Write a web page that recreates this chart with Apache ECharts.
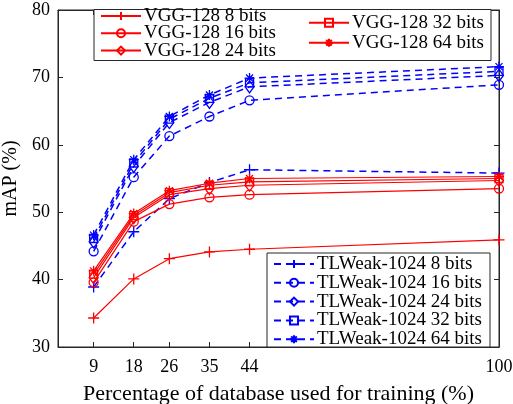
<!DOCTYPE html>
<html>
<head>
<meta charset="utf-8">
<script src="https://cdn.jsdelivr.net/npm/echarts@6/dist/echarts.min.js"></script>
<style>html,body{margin:0;padding:0;background:#fff}#c{width:513px;height:404px}</style>
</head>
<body>
<div id="c"></div>
<script>
// ---- data ----
const xValues = [9, 18, 26, 35, 44, 100];
const xTicks = [9, 18, 26, 35, 44, 100];
const yTicks = [30, 40, 50, 60, 70, 80];
const seriesNames = [
  'VGG-128 8 bits', 'VGG-128 16 bits', 'VGG-128 24 bits', 'VGG-128 32 bits', 'VGG-128 64 bits',
  'TLWeak-1024 8 bits', 'TLWeak-1024 16 bits', 'TLWeak-1024 24 bits', 'TLWeak-1024 32 bits', 'TLWeak-1024 64 bits'
];
const vgg8  = [34.3, 40.1, 43.1, 44.1, 44.5, 45.9];
const vgg16 = [39.6, 48.6, 51.2, 52.2, 52.6, 53.5];
const vgg24 = [40.3, 49.2, 52.6, 53.5, 54.0, 54.7];
const vgg32 = [40.8, 49.5, 52.9, 54.0, 54.5, 55.0];
const vgg64 = [41.3, 49.8, 53.2, 54.3, 55.0, 55.3];
const tl8   = [38.9, 47.1, 52.0, 54.4, 56.3, 55.8];
const tl16  = [44.2, 55.2, 61.3, 64.2, 66.6, 68.9];
const tl24  = [45.6, 56.8, 63.3, 66.3, 68.6, 70.3];
const tl32  = [46.1, 57.3, 63.8, 66.9, 69.2, 70.9];
const tl64  = [46.6, 57.8, 64.2, 67.4, 69.9, 71.6];

const FONT = "'Liberation Serif', 'Times New Roman', serif";
const RED = '#ff0000', BLUE = '#0000ff', AX = '#262626';
const PLUS = 'path://M0,5L10,5M5,0L5,10';
const STAR = 'path://M0,5L10,5M5,0L5,10M1.5,1.5L8.5,8.5M1.5,8.5L8.5,1.5';
const markers = [
  {s: PLUS, z: 11}, {s: 'circle', z: 9}, {s: 'diamond', z: [9, 12]}, {s: 'rect', z: 8}, {s: STAR, z: 10}
];
const allData = [vgg8, vgg16, vgg24, vgg32, vgg64, tl8, tl16, tl24, tl32, tl64];

const series = allData.map((vals, i) => {
  const isRed = i < 5;
  const col = isRed ? RED : BLUE;
  const m = markers[i % 5];
  return {
    name: seriesNames[i],
    type: 'line',
    data: xValues.map((x, j) => [x, vals[j]]),
    symbol: m.s,
    symbolSize: m.z,
    showSymbol: true,
    lineStyle: {color: col, width: isRed ? 1.2 : 1.5, type: isRed ? 'solid' : [7, 5]},
    itemStyle: {color: 'rgba(0,0,0,0)', borderColor: col, borderWidth: 1.3},
    emphasis: {disabled: true},
    animation: false,
    z: isRed ? 3 : 2
  };
});

const legendCommon = {
  orient: 'vertical',
  itemWidth: 40,
  itemHeight: 10,
  selectedMode: false,
  padding: 0,
  z: 20,
  textStyle: {fontFamily: FONT, fontSize: 19, color: '#000', padding: [0, 0, 0, -2]}
};

const chart = echarts.init(document.getElementById('c'), null, {renderer: 'canvas'});
chart.setOption({
  animation: false,
  backgroundColor: '#fff',
  grid: {left: 58, right: 14, top: 10, bottom: 57, outerBoundsMode: 'none', containLabel: false,
         show: true, borderColor: AX, borderWidth: 1, backgroundColor: 'transparent'},
  xAxis: [{
    type: 'value', min: 1, max: 100, position: 'bottom',
    name: 'Percentage of database used for training (%)',
    nameLocation: 'middle', nameGap: 36,
    nameTextStyle: {fontFamily: FONT, fontSize: 22, color: '#000'},
    axisLine: {show: true, onZero: false, lineStyle: {color: AX}},
    axisTick: {show: true, inside: true, length: 5, customValues: xTicks, lineStyle: {color: AX}},
    axisLabel: {customValues: xTicks, fontFamily: FONT, fontSize: 18, color: '#000', margin: 11},
    splitLine: {show: false}
  }, {
    type: 'value', min: 1, max: 100, position: 'top',
    axisLine: {show: true, onZero: false, lineStyle: {color: AX}},
    axisTick: {show: true, inside: true, length: 5, customValues: xTicks, lineStyle: {color: AX}},
    axisLabel: {show: false},
    splitLine: {show: false}
  }],
  yAxis: [{
    type: 'value', min: 30, max: 80, interval: 10, position: 'left',
    name: 'mAP (%)', nameLocation: 'middle', nameGap: 30,
    nameTextStyle: {fontFamily: FONT, fontSize: 20, color: '#000'},
    axisLine: {show: true, onZero: false, lineStyle: {color: AX}},
    axisTick: {show: true, inside: true, length: 5, lineStyle: {color: AX}},
    axisLabel: {fontFamily: FONT, fontSize: 18, color: '#000', margin: 8},
    splitLine: {show: false}
  }, {
    type: 'value', min: 30, max: 80, interval: 10, position: 'right',
    axisLine: {show: true, onZero: false, lineStyle: {color: AX}},
    axisTick: {show: true, inside: true, length: 5, lineStyle: {color: AX}},
    axisLabel: {show: false},
    splitLine: {show: false}
  }],
  legend: [
    Object.assign({}, legendCommon, {data: seriesNames.slice(0, 3), left: 100, top: 6.5, itemGap: -1.7}),
    Object.assign({}, legendCommon, {data: seriesNames.slice(3, 5), left: 308, top: 13.2, itemGap: 1}),
    Object.assign({}, legendCommon, {data: seriesNames.slice(5), left: 273, top: 254.5, itemGap: -0.2})
  ],
  graphic: [
    {type: 'rect', z: 15, shape: {x: 94, y: 9.5, width: 397, height: 51}, style: {fill: '#fff', stroke: AX, lineWidth: 1}},
    {type: 'rect', z: 15, shape: {x: 267, y: 253, width: 223, height: 94}, style: {fill: '#fff', stroke: AX, lineWidth: 1}}
  ],
  series: series
});
</script>
</body>
</html>
